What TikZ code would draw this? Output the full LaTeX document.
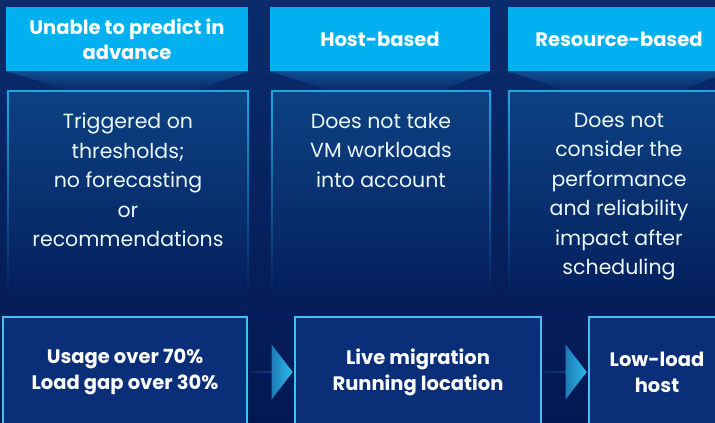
\documentclass[tikz,border=0pt]{standalone}
\usepackage{fontspec}
\setmainfont{Poppins}
\usetikzlibrary{positioning,calc,shapes.arrows}
\definecolor{bgtop}{HTML}{0A2C6C}
\definecolor{bgbot}{HTML}{031853}
\definecolor{bgmid}{HTML}{05205E}
\definecolor{cyanhdr}{HTML}{00B0F0}
\definecolor{edgetop}{HTML}{1EA6E2}
\definecolor{edgeres}{HTML}{3CC3F2}
\definecolor{panelfill}{HTML}{0D4283}
\definecolor{resfill}{HTML}{0B2E78}
\definecolor{shadow}{HTML}{0F4E90}
\definecolor{arrl}{HTML}{0E3C7C}
\definecolor{arrr}{HTML}{2CBAEE}
\tikzset{
	hdr/.style={fill=cyanhdr, text=white, font=\fontsize{19.5}{25}\selectfont\bfseries, align=center, minimum height=64pt, inner sep=0pt},
	panel/.style={top color=panelfill, bottom color=bgmid, minimum height=200pt, inner sep=0pt},
	txt/.style={text=white!92!cyanhdr, font=\fontsize{20.5}{29.5}\selectfont, align=center, inner sep=0pt},
	res/.style={draw=edgeres, line width=2pt, fill=resfill, text=white, font=\fontsize{19.5}{26}\selectfont\bfseries, align=center, minimum height=110pt, inner sep=0pt},
	blk/.style={single arrow, left color=arrl, right color=arrr, minimum height=43pt, minimum width=55pt, single arrow head extend=13pt, single arrow tip angle=105, inner sep=0pt}
}

\begin{document}
\begin{tikzpicture}[x=1pt, y=-1pt]
	\useasboundingbox (0,0) rectangle (715,423);
	\clip (0,0) rectangle (715,423);
	\shade[top color=bgtop, bottom color=bgbot] (0,0) rectangle (715,423);

	\node[hdr, minimum width=242pt] (h1) at (127,39) {Unable to predict in\\advance};
	\node[hdr, minimum width=220pt] (h2) at (380,39) {Host-based};
	\node[hdr, minimum width=222pt] (h3) at (619,39) {Resource-based};

	\foreach \h/\l/\r in {h1/61/48, h2/56/46, h3/54/46}
		\shade[top color=shadow, bottom color=bgtop] (\h.south west) -- (\h.south east) -- ($(\h.south east)+(-\r,18)$) -- ($(\h.south west)+(\l,18)$) -- cycle;

	\node[panel, minimum width=242pt] (p1) at (128,191) {};
	\node[panel, minimum width=220pt] (p2) at (381,191) {};
	\node[panel, minimum width=222pt] (p3) at (619,191) {};

	\foreach \p in {p1,p2,p3} {
		\draw[edgetop, line width=2pt] (\p.north west) -- (\p.north east);
		\shade[top color=edgetop, bottom color=bgmid] ($(\p.north west)+(0,1)$) rectangle ($(\p.south west)+(2,0)$);
		\shade[top color=edgetop, bottom color=bgmid] ($(\p.north east)+(-2,1)$) rectangle ($(\p.south east)$);
	}

	\node[txt, anchor=north, below=22pt of p1.north] (t1) {Triggered on\\thresholds;\\no forecasting\\or\\recommendations};
	\node[txt, anchor=north, below=22pt of p2.north] (t2) {Does not take\\VM workloads\\into account};
	\node[txt, anchor=north, below=22pt of p3.north] (t3) {Does not\\consider the\\performance\\and reliability\\impact after\\scheduling};

	\node[res, minimum width=244pt] (r1) at (125,372) {Usage over 70\%\\Load gap over 30\%};
	\node[res, minimum width=246pt] (r2) at (418,372) {Live migration\\Running location};
	\node[res, minimum width=136pt] (r3) at (657,372) {Low-load\\host};

	\node[blk] (a1) at ($(r1.east)!0.5!(r2.west)$) {};
	\node[blk] (a2) at ($(r2.east)!0.5!(r3.west)$) {};
\end{tikzpicture}
\end{document}
